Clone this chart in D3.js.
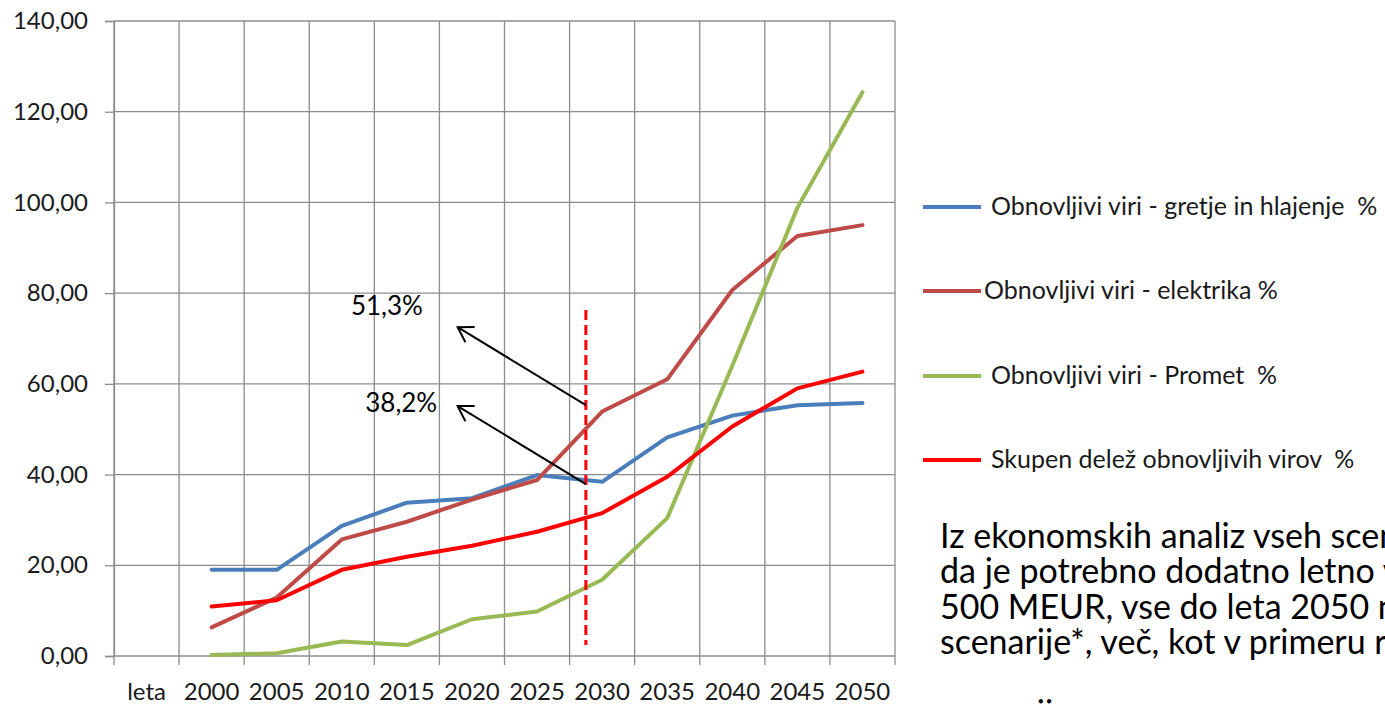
<!DOCTYPE html>
<html>
<head>
<meta charset="utf-8">
<script src="https://cdn.jsdelivr.net/npm/d3@7"></script>
<style>
  html, body { margin: 0; padding: 0; background: #fff; overflow: hidden; }
  svg { display: block; font-family: Lato, "Open Sans", sans-serif; }
</style>
</head>
<body>
<svg id="chart" width="1385" height="704"></svg>
<script>
// Categories along the x axis (first band is the axis caption "leta")
const categories = ["leta", "2000", "2005", "2010", "2015", "2020", "2025", "2030", "2035", "2040", "2045", "2050"];
const years = ["2000", "2005", "2010", "2015", "2020", "2025", "2030", "2035", "2040", "2045", "2050"];

// Share of renewables, % per year
const heatingCooling = [19.0, 19.0, 28.7, 33.8, 34.8, 39.9, 38.4, 48.2, 53.0, 55.3, 55.8];
const electricity    = [6.3, 12.9, 25.7, 29.6, 34.5, 38.8, 53.9, 61.0, 80.7, 92.6, 95.0];
const transport      = [0.2, 0.6, 3.2, 2.4, 8.1, 9.8, 16.8, 30.4, 64.0, 98.8, 124.3];
const totalShare     = [10.9, 12.3, 19.0, 21.9, 24.3, 27.4, 31.5, 39.5, 50.6, 59.0, 62.7];

const seriesNames = [
  "Obnovljivi viri - gretje in hlajenje  %",
  "Obnovljivi viri - elektrika %",
  "Obnovljivi viri - Promet  %",
  "Skupen delež obnovljivih virov  %"
];
const seriesColors = ["#4A7EBB", "#BE4B48", "#98B954", "#FF0000"];
const seriesValues = [heatingCooling, electricity, transport, totalShare];

const yTicks = [0, 20, 40, 60, 80, 100, 120, 140];

// Annotation: the 2030 target marker and the two callouts
const markerYear = 2028.75;
const markerRange = [2.4, 76.3];
const calloutLabels = ["51,3%", "38,2%"];
const calloutFrom = [[2028.75, 55.3], [2028.75, 37.9]];
const calloutTo = [[2018.9, 72.5], [2018.9, 55.1]];
const calloutTextAt = [[2010.7, 75.2], [2011.8, 53.8]];

// Note beside the chart; it runs on past the right edge of the page
const noteLines = [
  "Iz ekonomskih analiz vseh scenarijev izhaja,",
  "da je potrebno dodatno letno vlagati okoli",
  "500 MEUR, vse do leta 2050 na letni ravni za",
  "scenarije*, več, kot v primeru referenčnega",
  "",
  "scenarija."
];

const svg = d3.select("#chart");
const plotLeft = 114, plotRight = 895, plotTop = 21, plotBottom = 656;

const x = d3.scaleBand().domain(categories).range([plotLeft, plotRight]).padding(0);
const y = d3.scaleLinear().domain([0, 140]).range([plotBottom, plotTop]);
const bw = x.bandwidth();
const cx = c => x(c) + bw / 2;
// position of a fractional year between band centres
const xYear = yr => {
  const i = Math.floor((yr - 2000) / 5);
  const f = (yr - 2000) / 5 - i;
  return cx(String(2000 + 5 * i)) + f * bw;
};

const grid = svg.append("g").attr("stroke", "#8c8c8c").attr("stroke-width", 1.3);
// horizontal grid lines
grid.selectAll("line.h").data(yTicks).join("line")
  .attr("x1", plotLeft).attr("x2", plotRight)
  .attr("y1", d => y(d)).attr("y2", d => y(d));
// vertical grid lines at band boundaries, plus tick marks below the axis
const bounds = categories.map(c => x(c)).concat([plotRight]);
grid.selectAll("line.v").data(bounds).join("line")
  .attr("x1", d => d).attr("x2", d => d)
  .attr("y1", plotTop).attr("y2", plotBottom + 9);

// y axis
const yAxis = d3.axisLeft(y).tickValues(yTicks).tickSize(9).tickPadding(17)
  .tickFormat(d => d3.format(".2f")(d).replace(".", ","));
const ya = svg.append("g").attr("transform", `translate(${plotLeft},0)`).call(yAxis);
ya.select(".domain").attr("stroke", "#8c8c8c").attr("stroke-width", 1.3);
ya.selectAll(".tick line").attr("stroke", "#8c8c8c").attr("stroke-width", 1.3);
ya.selectAll("text").attr("font-size", 24).attr("fill", "#1a1a1a").attr("font-family", "Lato");

// x axis labels
const xAxis = d3.axisBottom(x).tickSize(0).tickPadding(27);
const xa = svg.append("g").attr("transform", `translate(0,${plotBottom})`).call(xAxis);
xa.select(".domain").remove();
xa.selectAll("text").attr("font-size", 24).attr("fill", "#1a1a1a").attr("font-family", "Lato");

// series lines
const line = d3.line().x((d, i) => cx(years[i])).y(d => y(d));
svg.append("g").selectAll("path").data(seriesValues).join("path")
  .attr("d", d => line(d))
  .attr("fill", "none")
  .attr("stroke", (d, i) => seriesColors[i])
  .attr("stroke-width", 4)
  .attr("stroke-linejoin", "round")
  .attr("stroke-linecap", "round");

// dashed marker
svg.append("line")
  .attr("x1", xYear(markerYear)).attr("x2", xYear(markerYear))
  .attr("y1", y(markerRange[1])).attr("y2", y(markerRange[0]))
  .attr("stroke", "#FF0000").attr("stroke-width", 3)
  .attr("stroke-dasharray", "10,5");

// callout arrows with open heads
const arrows = svg.append("g").attr("stroke", "#000").attr("stroke-width", 2).attr("fill", "none");
calloutFrom.forEach((from, i) => {
  const x0 = xYear(from[0]), y0 = y(from[1]);
  const x1 = xYear(calloutTo[i][0]), y1 = y(calloutTo[i][1]);
  arrows.append("line").attr("x1", x0).attr("y1", y0).attr("x2", x1).attr("y2", y1);
  const ang = Math.atan2(y0 - y1, x0 - x1);
  const len = 17, spread = 0.55;
  const p1 = [x1 + len * Math.cos(ang - spread), y1 + len * Math.sin(ang - spread)];
  const p2 = [x1 + len * Math.cos(ang + spread), y1 + len * Math.sin(ang + spread)];
  arrows.append("path").attr("d", `M${p1[0]},${p1[1]}L${x1},${y1}L${p2[0]},${p2[1]}`);
});
svg.append("g").selectAll("text").data(calloutLabels).join("text")
  .attr("x", (d, i) => xYear(calloutTextAt[i][0]))
  .attr("y", (d, i) => y(calloutTextAt[i][1]))
  .attr("font-size", 26).attr("fill", "#000")
  .text(d => d);

// legend
const legendY = [207, 291, 376, 460];
const legendTextX = [991, 984, 991, 991];
const lg = svg.append("g");
lg.selectAll("line").data(seriesNames).join("line")
  .attr("x1", 923).attr("x2", 981)
  .attr("y1", (d, i) => legendY[i]).attr("y2", (d, i) => legendY[i])
  .attr("stroke", (d, i) => seriesColors[i]).attr("stroke-width", 4);
lg.selectAll("text").data(seriesNames).join("text")
  .attr("x", (d, i) => legendTextX[i])
  .attr("y", (d, i) => legendY[i] + 8)
  .attr("font-size", 25).attr("fill", "#1a1a1a")
  .style("white-space", "pre")
  .text(d => d);

// explanatory note
svg.append("g").selectAll("text").data(noteLines).join("text")
  .attr("x", 940)
  .attr("y", (d, i) => 548 + i * 35.3)
  .attr("font-size", 34).attr("fill", "#000")
  .text(d => d);
</script>
</body>
</html>
